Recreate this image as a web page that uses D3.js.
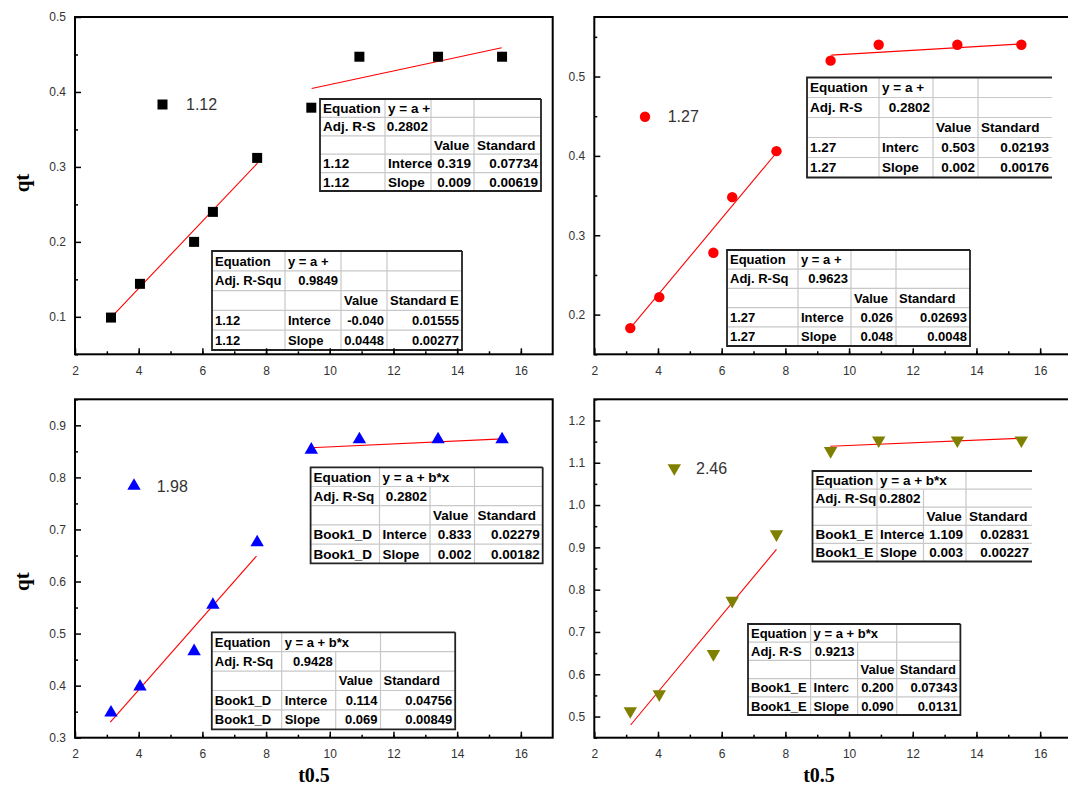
<!DOCTYPE html>
<html>
<head>
<meta charset="utf-8">
<script src="https://cdn.jsdelivr.net/npm/d3@7"></script>
<style>
  body { margin: 0; background: #fff; }
  svg { display: block; font-family: Arial, "Liberation Sans", sans-serif; }
  .tick-label { font-size: 12px; fill: #333; }
  .axis-title { font-family: "Times New Roman", "Liberation Serif", serif; font-weight: bold; font-size: 21px; }
  .tbl text { font-size: 13px; font-weight: bold; fill: #000; }
</style>
</head>
<body>
<div id="chart"></div>
<script>
// Data

// common sqrt(t) values (same in every panel)
var tHalf = [3.13, 4.04, 5.74, 6.33, 7.72, 9.42, 10.93, 13.40, 15.41];

var qt112 = [0.099, 0.144, 0.200, 0.240, 0.312, 0.379, 0.447, 0.447, 0.447];
var qt127 = [0.183, 0.222, 0.278, 0.348, 0.406, 0.520, 0.540, 0.540, 0.540];
var qt198 = [0.348, 0.398, 0.466, 0.555, 0.675, 0.853, 0.873, 0.873, 0.873];
var qt246 = [0.513, 0.553, 0.648, 0.774, 0.931, 1.128, 1.153, 1.153, 1.153];

// fitted line end points [x, y]
var fit112a = [[3.13, 0.099], [7.73, 0.305]];
var fit112b = [[9.43, 0.4045], [15.40, 0.459]];
var fit127a = [[3.13, 0.183], [7.70, 0.403]];
var fit127b = [[9.44, 0.527], [15.38, 0.541]];
var fit198a = [[3.11, 0.330], [7.70, 0.649]];
var fit198b = [[9.40, 0.857], [15.42, 0.874]];
var fit246a = [[3.14, 0.480], [7.72, 0.895]];
var fit246b = [[9.41, 1.139], [15.41, 1.158]];

// y tick labels
var yTicks112 = [0.1, 0.2, 0.3, 0.4, 0.5];
var yTicks127 = [0.2, 0.3, 0.4, 0.5];
var yTicks198 = [0.3, 0.4, 0.5, 0.6, 0.7, 0.8, 0.9];
var yTicks246 = [0.5, 0.6, 0.7, 0.8, 0.9, 1.0, 1.1, 1.2];
var xTicks = [2, 4, 6, 8, 10, 12, 14, 16];

// fit result tables
var tbl112a = [
  ["Equation", "y = a +", "", ""],
  ["Adj. R-S", "0.2802", "", ""],
  ["", "", "Value", "Standard"],
  ["1.12", "Interce", "0.319", "0.07734"],
  ["1.12", "Slope", "0.009", "0.00619"]
];
var tbl112b = [
  ["Equation", "y = a +", "", ""],
  ["Adj. R-Squ", "0.9849", "", ""],
  ["", "", "Value", "Standard E"],
  ["1.12", "Interce", "-0.040", "0.01555"],
  ["1.12", "Slope", "0.0448", "0.00277"]
];
var tbl127a = [
  ["Equation", "y = a +", "", ""],
  ["Adj. R-S", "0.2802", "", ""],
  ["", "", "Value", "Standard"],
  ["1.27", "Interc", "0.503", "0.02193"],
  ["1.27", "Slope", "0.002", "0.00176"]
];
var tbl127b = [
  ["Equation", "y = a +", "", ""],
  ["Adj. R-Sq", "0.9623", "", ""],
  ["", "", "Value", "Standard"],
  ["1.27", "Interce", "0.026", "0.02693"],
  ["1.27", "Slope", "0.048", "0.0048"]
];
var tbl198a = [
  ["Equation", "y = a + b*x", "", ""],
  ["Adj. R-Sq", "0.2802", "", ""],
  ["", "", "Value", "Standard"],
  ["Book1_D", "Interce", "0.833", "0.02279"],
  ["Book1_D", "Slope", "0.002", "0.00182"]
];
var tbl198b = [
  ["Equation", "y = a + b*x", "", ""],
  ["Adj. R-Sq", "0.9428", "", ""],
  ["", "", "Value", "Standard"],
  ["Book1_D", "Interce", "0.114", "0.04756"],
  ["Book1_D", "Slope", "0.069", "0.00849"]
];
var tbl246a = [
  ["Equation", "y = a + b*x", "", ""],
  ["Adj. R-Sq", "0.2802", "", ""],
  ["", "", "Value", "Standard"],
  ["Book1_E", "Interce", "1.109", "0.02831"],
  ["Book1_E", "Slope", "0.003", "0.00227"]
];
var tbl246b = [
  ["Equation", "y = a + b*x", "", ""],
  ["Adj. R-S", "0.9213", "", ""],
  ["", "", "Value", "Standard"],
  ["Book1_E", "Interc", "0.200", "0.07343"],
  ["Book1_E", "Slope", "0.090", "0.0131"]
];

// Layout of the four panels
var panels = [
  { name: "1.12", qt: qt112, fits: [fit112a, fit112b], yDomain: [0.05, 0.5], yTicks: yTicks112,
    x0: 75, x1: 552.7, y0: 17, y1: 354.3, color: "#000", symbol: d3.symbolSquare, size: 100, rot: 0,
    legend: [162.5, 104.5, 186], yTitle: 183,
    tables: [
      { rows: tbl112a, cols: [320, 385, 431, 474, 541], top: 99, bottom: 191, open: false, merge: false, fs: 13.5 },
      { rows: tbl112b, cols: [212, 285, 341, 387, 462], top: 251, bottom: 350, open: false, merge: false, fs: 13 }
    ] },
  { name: "1.27", qt: qt127, fits: [fit127a, fit127b], yDomain: [0.15, 0.575], yTicks: yTicks127,
    x0: 594.3, x1: 1072, y0: 17, y1: 354.3, color: "#ff0000", symbol: d3.symbolCircle, size: 85, rot: 0,
    legend: [645, 116.7, 667.7],
    tables: [
      { rows: tbl127a, cols: [807, 879, 933, 978, 1052], top: 77.5, bottom: 177.5, open: true, merge: false, fs: 13.5 },
      { rows: tbl127b, cols: [727, 798, 851, 896, 970], top: 250, bottom: 346, open: false, merge: false, fs: 13 }
    ] },
  { name: "1.98", qt: qt198, fits: [fit198a, fit198b], yDomain: [0.3, 0.95], yTicks: yTicks198,
    x0: 75, x1: 552.7, y0: 399.3, y1: 737.7, color: "#0000ff", symbol: d3.symbolTriangle, size: 78, rot: 0,
    legend: [134, 486, 156.7], yTitle: 581.7, xTitle: 314,
    tables: [
      { rows: tbl198a, cols: [310.6, 379.5, 430, 474.5, 542.7], top: 467.3, bottom: 563.3, open: false, merge: true, fs: 13.5 },
      { rows: tbl198b, cols: [211.8, 281.7, 335.7, 380.5, 455.2], top: 632.3, bottom: 729.3, open: false, merge: true, fs: 13 }
    ] },
  { name: "2.46", qt: qt246, fits: [fit246a, fit246b], yDomain: [0.45, 1.25], yTicks: yTicks246,
    x0: 594.3, x1: 1072, y0: 399.3, y1: 737.7, color: "#808000", symbol: d3.symbolTriangle, size: 78, rot: 180,
    legend: [674.3, 468, 696], xTitle: 819,
    tables: [
      { rows: tbl246a, cols: [812.5, 877, 923.5, 966, 1032], top: 471, bottom: 561.5, open: true, merge: true, fs: 13.5 },
      { rows: tbl246b, cols: [748, 810.6, 857.6, 896.7, 960.4], top: 624, bottom: 715, open: false, merge: true, fs: 13 }
    ] }
];

var svg = d3.select("#chart").append("svg")
  .attr("width", 1068)
  .attr("height", 789);

svg.append("rect").attr("width", 1068).attr("height", 789).attr("fill", "#fff");

function isNumber(s) {
  return /^-?[0-9.]+$/.test(s);
}

function drawTable(g, t) {
  var cols = t.cols;
  var nRows = t.rows.length;
  var rowH = (t.bottom - t.top) / nRows;
  var left = cols[0], right = cols[cols.length - 1];
  var tg = g.append("g").attr("class", "tbl");

  tg.append("rect")
    .attr("x", left).attr("y", t.top)
    .attr("width", right - left).attr("height", t.bottom - t.top)
    .attr("fill", "#fff");

  // inner grid
  for (var r = 1; r < nRows; r++) {
    tg.append("line")
      .attr("x1", left).attr("x2", right)
      .attr("y1", t.top + r * rowH).attr("y2", t.top + r * rowH)
      .attr("stroke", "#c8c8c8").attr("stroke-width", 1.2);
  }
  for (var r = 0; r < nRows; r++) {
    for (var c = 1; c < cols.length - 1; c++) {
      if (t.merge && r == 0 && c == 2) continue;
      tg.append("line")
        .attr("x1", cols[c]).attr("x2", cols[c])
        .attr("y1", t.top + r * rowH).attr("y2", t.top + (r + 1) * rowH)
        .attr("stroke", "#c8c8c8").attr("stroke-width", 1.2);
    }
  }

  // outer border
  var border = "M" + right + "," + t.top + "H" + left + "V" + t.bottom + "H" + right;
  if (!t.open) border += "V" + t.top;
  tg.append("path")
    .attr("d", border)
    .attr("fill", "none")
    .attr("stroke", "#222")
    .attr("stroke-width", 1.8);

  // cell texts
  t.rows.forEach(function (row, r) {
    row.forEach(function (txt, c) {
      if (txt === "") return;
      var num = isNumber(txt) && c > 0;
      tg.append("text")
        .attr("x", num ? cols[c + 1] - 3 : cols[c] + 3)
        .attr("y", t.top + (r + 0.5) * rowH)
        .attr("dy", "0.36em")
        .attr("text-anchor", num ? "end" : "start")
        .style("font-size", t.fs + "px")
        .text(txt);
    });
  });
}

panels.forEach(function (p) {
  var xScale = d3.scaleLinear().domain([2, 17]).range([p.x0, p.x1]);
  var yScale = d3.scaleLinear().domain(p.yDomain).range([p.y1, p.y0]);
  var g = svg.append("g");

  // fitted lines
  var line = d3.line()
    .x(function (d) { return xScale(d[0]); })
    .y(function (d) { return yScale(d[1]); });
  p.fits.forEach(function (f) {
    g.append("path")
      .attr("d", line(f))
      .attr("fill", "none")
      .attr("stroke", "#ff0000")
      .attr("stroke-width", 1.1);
  });

  // data points
  var sym = d3.symbol().type(p.symbol).size(p.size);
  g.selectAll("path.pt")
    .data(p.qt)
    .enter()
    .append("path")
    .attr("class", "pt")
    .attr("d", sym)
    .attr("fill", p.color)
    .attr("transform", function (d, i) {
      return "translate(" + xScale(tHalf[i]) + "," + yScale(d) + ") rotate(" + p.rot + ")";
    });

  // legend
  g.append("path")
    .attr("d", sym)
    .attr("fill", p.color)
    .attr("transform", "translate(" + p.legend[0] + "," + p.legend[1] + ") rotate(" + p.rot + ")");
  g.append("text")
    .attr("x", p.legend[2])
    .attr("y", p.legend[1])
    .attr("dy", "0.36em")
    .style("font-size", "16px")
    .style("fill", "#333")
    .text(p.name);

  // tables
  p.tables.forEach(function (t) { drawTable(g, t); });

  // axes with inward ticks
  var xAxis = d3.axisBottom(xScale)
    .tickValues(d3.range(3, 17, 1))
    .tickSize(-3).tickFormat("").tickSizeOuter(0);
  g.append("g").attr("transform", "translate(0," + p.y1 + ")").call(xAxis)
    .call(function (a) { a.select(".domain").remove(); a.selectAll("line").attr("stroke", "#000").attr("stroke-width", 1.5); });
  var xAxisMajor = d3.axisBottom(xScale)
    .tickValues(xTicks)
    .tickSize(-6).tickPadding(10).tickSizeOuter(0);
  g.append("g").attr("transform", "translate(0," + p.y1 + ")").call(xAxisMajor)
    .call(function (a) {
      a.select(".domain").remove();
      a.selectAll("line").attr("stroke", "#000").attr("stroke-width", 1.5);
      a.selectAll("text").attr("class", "tick-label").attr("y", 12).attr("dy", "0.71em").style("font-family", "Arial, 'Liberation Sans', sans-serif");
    });

  var minorY = [];
  for (var v = p.yDomain[0]; v <= p.yDomain[1] + 1e-9; v += 0.05) minorY.push(+v.toFixed(2));
  var yAxisMinor = d3.axisLeft(yScale)
    .tickValues(minorY.filter(function (v) { return Math.abs(v * 10 - Math.round(v * 10)) > 0.01; }))
    .tickSize(-3).tickFormat("").tickSizeOuter(0);
  g.append("g").attr("transform", "translate(" + p.x0 + ",0)").call(yAxisMinor)
    .call(function (a) { a.select(".domain").remove(); a.selectAll("line").attr("stroke", "#000").attr("stroke-width", 1.5); });
  var yAxisMajor = d3.axisLeft(yScale)
    .tickValues(p.yTicks)
    .tickSize(-6).tickPadding(9).tickFormat(d3.format(".1f")).tickSizeOuter(0);
  g.append("g").attr("transform", "translate(" + p.x0 + ",0)").call(yAxisMajor)
    .call(function (a) {
      a.select(".domain").remove();
      a.selectAll("line").attr("stroke", "#000").attr("stroke-width", 1.5);
      a.selectAll("text").attr("class", "tick-label").style("font-family", "Arial, 'Liberation Sans', sans-serif");
    });

  // frame
  g.append("rect")
    .attr("x", p.x0).attr("y", p.y0)
    .attr("width", p.x1 - p.x0).attr("height", p.y1 - p.y0)
    .attr("fill", "none")
    .attr("stroke", "#000")
    .attr("stroke-width", 2);

  // axis titles
  if (p.yTitle) {
    svg.append("text")
      .attr("class", "axis-title")
      .attr("transform", "translate(22," + p.yTitle + ") rotate(-90)")
      .attr("text-anchor", "middle")
      .attr("dy", "0.35em")
      .text("qt");
  }
  if (p.xTitle) {
    svg.append("text")
      .attr("class", "axis-title")
      .attr("x", p.xTitle)
      .attr("y", 775)
      .attr("dy", "0.35em")
      .style("font-size", "20px")
      .attr("text-anchor", "middle")
      .text("t0.5");
  }
});
</script>
</body>
</html>
